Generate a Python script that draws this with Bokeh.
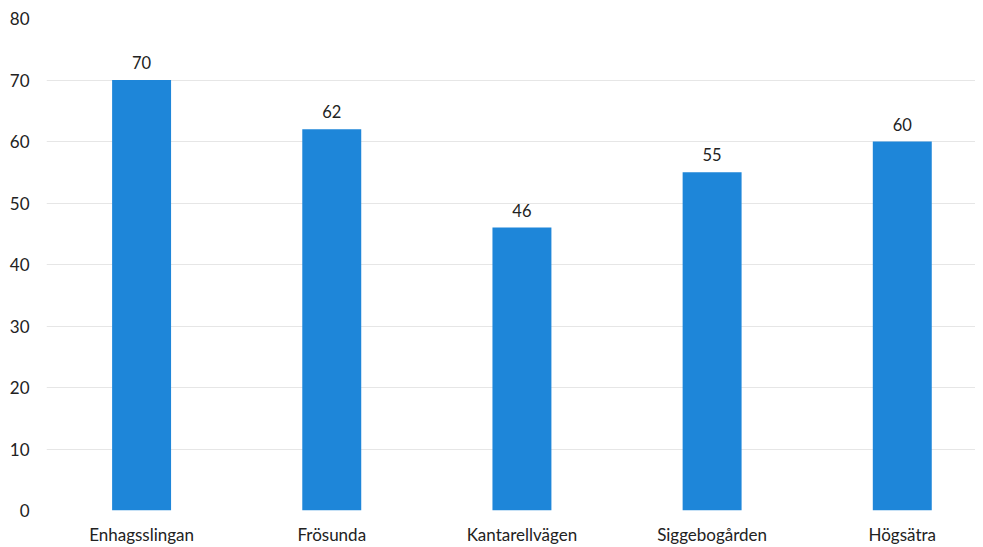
from bokeh.plotting import figure
from bokeh.models import ColumnDataSource, FixedTicker, Range1d, LabelSet
from bokeh.core.properties import value
from bokeh.embed import file_html
from bokeh.resources import INLINE

categories = ["Enhagsslingan", "Frösunda", "Kantarellvägen", "Siggebogården", "Högsätra"]
values = [70, 62, 46, 55, 60]
y_ticks = [0, 10, 20, 30, 40, 50, 60, 70, 80]

xs = [i + 0.5 for i in range(len(categories))]
src = ColumnDataSource(dict(x=xs, top=values, label=[str(v) for v in values]))

FONT = "Lato"

p = figure(width=975, height=547, output_backend="svg", toolbar_location=None,
           x_range=Range1d(0, 4.885), y_range=Range1d(0, 80))
p.min_border_top = 18
p.min_border_left = 46
p.min_border_right = 0
p.min_border_bottom = 0
p.outline_line_color = None
p.background_fill_color = "white"
p.border_fill_color = "white"

p.vbar(x="x", top="top", width=0.31, bottom=0, source=src,
       fill_color="#1E86D9", line_color=None)

labels = LabelSet(x="x", y="top", text="label", source=src, text_align="center",
                  text_baseline="bottom", y_offset=11, text_font=value(FONT),
                  text_font_size="16.5px", text_color="#222222")
p.add_layout(labels)

p.xaxis.ticker = FixedTicker(ticks=xs)
p.xaxis.major_label_overrides = {x: c for x, c in zip(xs, categories)}
p.yaxis.ticker = FixedTicker(ticks=y_ticks)

for ax in (p.xaxis[0], p.yaxis[0]):
    ax.axis_line_color = None
    ax.major_tick_line_color = None
    ax.minor_tick_line_color = None
    ax.major_label_text_font = FONT
    ax.major_label_text_font_size = "17px"
    ax.major_label_text_color = "#222222"
p.xaxis.major_label_standoff = 7
p.yaxis.major_label_standoff = 11

p.xgrid.grid_line_color = None
p.ygrid.grid_line_color = "#e6e6e6"
p.ygrid.grid_line_width = 1

open("out.html", "w").write(file_html(p, INLINE))
